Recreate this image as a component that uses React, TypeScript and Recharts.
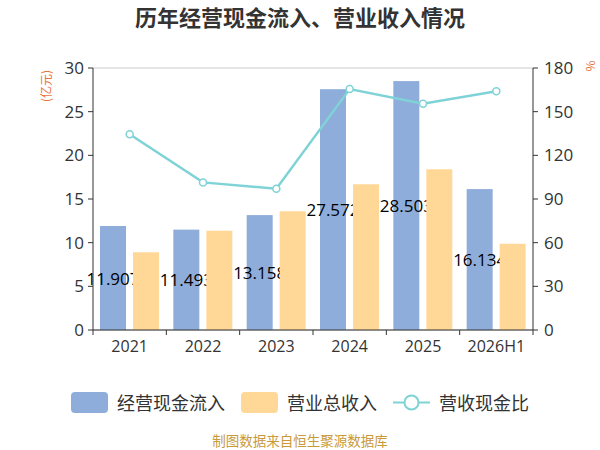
import {
    ComposedChart,
    Bar,
    Line,
    XAxis,
    YAxis,
    CartesianGrid,
} from "recharts";

const years = ["2021", "2022", "2023", "2024", "2025", "2026H1"];
const cashInflow = [11.907, 11.493, 13.158, 27.572, 28.503, 16.134];
const revenue = [8.89, 11.36, 13.6, 16.7, 18.4, 9.87];
const cashRatio = [134.5, 101.4, 97.0, 165.5, 155.4, 164.0];
const leftTicks = [0, 5, 10, 15, 20, 25, 30];
const rightTicks = [0, 30, 60, 90, 120, 150, 180];

const data = years.map((year, i) => ({
    year,
    flow: cashInflow[i],
    revenue: revenue[i],
    ratio: cashRatio[i],
}));

const FONT = '"Noto Sans CJK SC", "Noto Sans", sans-serif';
const NUM_FONT = '"Open Sans", "Noto Sans", sans-serif';
const BLUE = "#8eaddb";
const ORANGE = "#ffd898";
const TEAL = "#7fd3d6";
const PLOT_W = 440;

// flow bar with its value drawn in the middle, so the next bar can cover it
const FlowShape = (props: any) => {
    const { x, y, width, height, fill, payload } = props;
    return (
        <g>
            <rect x={x} y={y} width={width} height={height} fill={fill} />
            <text
                x={x + width / 2}
                y={y + height / 2}
                textAnchor="middle"
                dominantBaseline="central"
                fontSize={17}
                fontFamily={NUM_FONT}
                fill="#000"
            >
                {payload.flow.toFixed(3)}
            </text>
        </g>
    );
};

const XTick = (props: any) => {
    const { x, y, payload, index } = props;
    const bw = PLOT_W / years.length;
    return (
        <g>
            <line x1={x - bw / 2} y1={y - 8} x2={x - bw / 2} y2={y - 3} stroke="#333" />
            {index === years.length - 1 && (
                <line x1={x + bw / 2} y1={y - 8} x2={x + bw / 2} y2={y - 3} stroke="#333" />
            )}
            <text
                x={x}
                y={y + 14}
                textAnchor="middle"
                fontSize={16}
                fontFamily={NUM_FONT}
                fill="#333"
            >
                {payload.value}
            </text>
        </g>
    );
};

const LegendBox = () => (
    <div
        style={{
            position: "absolute",
            left: 0,
            top: 389,
            width: 600,
            display: "flex",
            alignItems: "center",
            justifyContent: "center",
            fontFamily: FONT,
            fontSize: 18,
            color: "#333",
        }}
    >
        <span style={{ width: 37, height: 21, background: BLUE, borderRadius: 4, marginRight: 9 }} />
        <span style={{ marginRight: 16 }}>经营现金流入</span>
        <span style={{ width: 37, height: 21, background: ORANGE, borderRadius: 4, marginRight: 9 }} />
        <span style={{ marginRight: 16 }}>营业总收入</span>
        <svg width={37} height={21} style={{ marginRight: 9 }}>
            <line x1={0} y1={10.5} x2={37} y2={10.5} stroke={TEAL} strokeWidth={2} />
            <circle cx={18.5} cy={10.5} r={7} fill="#fff" stroke={TEAL} strokeWidth={2} />
        </svg>
        <span>营收现金比</span>
    </div>
);

export default function App() {
    return (
        <div style={{ position: "absolute", left: 0, top: 0, width: 600, height: 450, background: "#fff" }}>
            <ComposedChart
                width={600}
                height={450}
                data={data}
                margin={{ top: 68, right: 0, bottom: 0, left: 0 }}
                barSize={26}
                barGap={7}
            >
                <text
                    x={300}
                    y={26}
                    textAnchor="middle"
                    fontSize={22}
                    fontWeight="bold"
                    fontFamily={FONT}
                    fill="#333"
                >
                    历年经营现金流入、营业收入情况
                </text>
                <text
                    x={0}
                    y={0}
                    transform="translate(51 86) rotate(-90)"
                    textAnchor="middle"
                    fontSize={12}
                    fontFamily={FONT}
                    fill="#e8743b"
                >
                    (亿元)
                </text>
                <text
                    x={0}
                    y={0}
                    transform="translate(595 66) rotate(-90)"
                    textAnchor="middle"
                    fontSize={12}
                    fontFamily={FONT}
                    fill="#e8743b"
                >
                    %
                </text>
                <CartesianGrid vertical={false} stroke="#ccc" />
                <XAxis
                    dataKey="year"
                    height={120}
                    axisLine={{ stroke: "#333" }}
                    tickLine={false}
                    tick={<XTick />}
                    interval={0}
                />
                <YAxis
                    yAxisId="left"
                    width={93}
                    domain={[0, 30]}
                    ticks={leftTicks}
                    axisLine={{ stroke: "#333" }}
                    tickLine={{ stroke: "#333" }}
                    tickSize={5}
                    tickMargin={4}
                    tick={{ fontSize: 17, fill: "#333", fontFamily: NUM_FONT }}
                />
                <YAxis
                    yAxisId="right"
                    orientation="right"
                    width={67}
                    domain={[0, 180]}
                    ticks={rightTicks}
                    axisLine={{ stroke: "#333" }}
                    tickLine={{ stroke: "#333" }}
                    tickSize={5}
                    tickMargin={6}
                    tick={{ fontSize: 17, fill: "#333", fontFamily: NUM_FONT }}
                />
                <Bar
                    yAxisId="left"
                    dataKey="flow"
                    name="经营现金流入"
                    fill={BLUE}
                    shape={<FlowShape />}
                    isAnimationActive={false}
                />
                <Bar
                    yAxisId="left"
                    dataKey="revenue"
                    name="营业总收入"
                    fill={ORANGE}
                    isAnimationActive={false}
                />
                <Line
                    yAxisId="right"
                    dataKey="ratio"
                    name="营收现金比"
                    stroke={TEAL}
                    strokeWidth={2.5}
                    dot={{ r: 3.5, fill: "#fff", stroke: TEAL, strokeWidth: 1.5 }}
                    isAnimationActive={false}
                />
                <text
                    x={300}
                    y={446}
                    textAnchor="middle"
                    fontSize={13.5}
                    fontFamily={FONT}
                    fill="#c99a3a"
                >
                    制图数据来自恒生聚源数据库
                </text>
            </ComposedChart>
            <LegendBox />
        </div>
    );
}
